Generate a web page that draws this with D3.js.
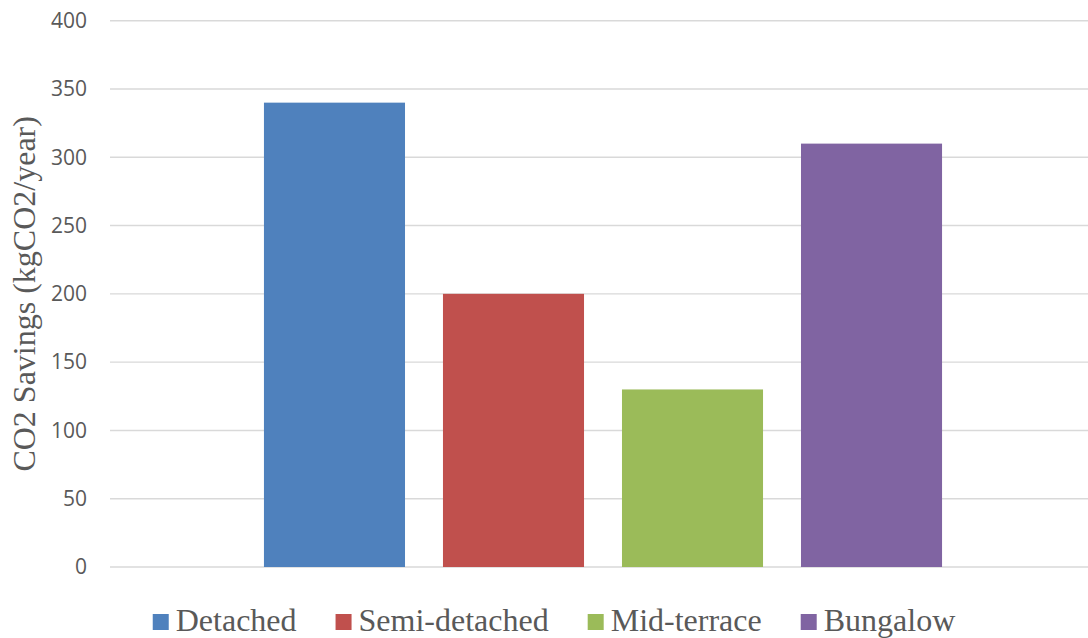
<!DOCTYPE html>
<html>
<head>
<meta charset="utf-8">
<script src="https://cdn.jsdelivr.net/npm/d3@7"></script>
<style>
  html, body { margin: 0; padding: 0; background: #fff; }
  svg { display: block; }
</style>
</head>
<body>
<svg id="chart" width="1088" height="638"></svg>
<script>
// House types and their annual CO2 savings
const houseTypes = ["Detached", "Semi-detached", "Mid-terrace", "Bungalow"];
const savings = [340, 200, 130, 310];
const barColors = ["#4F81BD", "#C0504D", "#9BBB59", "#8064A2"];
const yTicks = [0, 50, 100, 150, 200, 250, 300, 350, 400];
const yTitle = "CO2 Savings (kgCO2/year)";

const W = 1088, H = 638;
const plot = { left: 110, right: 1096, top: 20.7, bottom: 567 };

const svg = d3.select("#chart");

const y = d3.scaleLinear().domain([0, 400]).range([plot.bottom, plot.top]);
const x = d3.scaleBand()
  .domain(houseTypes)
  .range([plot.left, plot.right])
  .paddingInner(0.212)
  .paddingOuter(0.86);

// Gridlines
svg.append("g")
  .selectAll("line")
  .data(yTicks)
  .join("line")
  .attr("x1", plot.left)
  .attr("x2", W)
  .attr("y1", d => y(d))
  .attr("y2", d => y(d))
  .attr("stroke", "#d9d9d9")
  .attr("stroke-width", 1.4);

// Y axis tick labels
const yAxis = d3.axisLeft(y).tickValues(yTicks).tickSize(0).tickPadding(23);
const gy = svg.append("g")
  .attr("transform", `translate(${plot.left},0)`)
  .call(yAxis);
gy.select(".domain").remove();
gy.selectAll("text")
  .attr("fill", "#595959")
  .style("font-family", "'Open Sans', sans-serif")
  .style("font-size", "21px");

// Bars
svg.append("g")
  .selectAll("rect")
  .data(houseTypes)
  .join("rect")
  .attr("x", d => x(d))
  .attr("width", x.bandwidth())
  .attr("y", (d, i) => y(savings[i]))
  .attr("height", (d, i) => y(0) - y(savings[i]))
  .attr("fill", (d, i) => barColors[i]);

// Y axis title
svg.append("text")
  .attr("transform", `translate(35,${(plot.top + plot.bottom) / 2}) rotate(-90)`)
  .attr("text-anchor", "middle")
  .attr("fill", "#595959")
  .style("font-family", "'Liberation Serif', 'Times New Roman', serif")
  .style("font-size", "32px")
  .text(yTitle);

// Legend
const legend = svg.append("g");
const swatch = 16, swGap = 7, itemGap = 39;
let cx = 0;
houseTypes.forEach((name, i) => {
  const item = legend.append("g").attr("transform", `translate(${cx},0)`);
  item.append("rect")
    .attr("x", 0).attr("y", 614)
    .attr("width", swatch).attr("height", swatch)
    .attr("fill", barColors[i]);
  const t = item.append("text")
    .attr("x", swatch + swGap).attr("y", 631)
    .attr("fill", "#595959")
    .style("font-family", "'Liberation Serif', 'Times New Roman', serif")
    .style("font-size", "32px")
    .text(name);
  cx += swatch + swGap + t.node().getComputedTextLength() + itemGap;
});
const legendWidth = cx - itemGap;
legend.attr("transform", `translate(${554 - legendWidth / 2},0)`);
</script>
</body>
</html>
